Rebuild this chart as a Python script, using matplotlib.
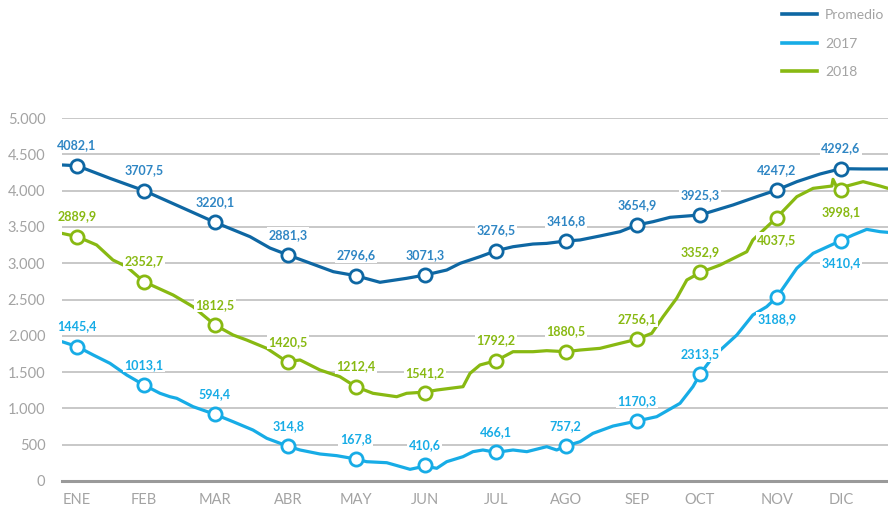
import matplotlib
matplotlib.use("Agg")
import matplotlib.pyplot as plt
from matplotlib.lines import Line2D
from matplotlib.ticker import FuncFormatter

plt.rcParams['font.family'] = ['Lato', 'DejaVu Sans']

# month ticks (day of year where the monthly markers sit)
months = ['ENE', 'FEB', 'MAR', 'ABR', 'MAY', 'JUN', 'JUL', 'AGO', 'SEP', 'OCT', 'NOV', 'DIC']
month_days = [6.6, 36.2, 67.6, 99.9, 129.8, 160.4, 191.8, 222.6, 254.0, 281.9, 315.8, 344.2]

# daily curves
prom_days = [0, 6.6, 21.2, 36.2, 52.1, 67.6, 83.1, 91.9, 99.9, 119.9, 129.8, 140.5, 152.3,
             160.4, 170.0, 175.9, 184.7, 191.8, 199.3, 208.1, 214.2, 222.6, 228.9, 237.7,
             246.6, 254.0, 261.2, 268.7, 281.9, 296.5, 307.0, 315.8, 324.7, 335.0, 344.2,
             353.9, 365]
prom_vals = [4353, 4343, 4169, 4000, 3779, 3563, 3365, 3209, 3113, 2883, 2828, 2737, 2792,
             2837, 2906, 2998, 3090, 3172, 3227, 3264, 3273, 3306, 3320, 3375,
             3434, 3526, 3572, 3632, 3664, 3802, 3916, 4008, 4123, 4229, 4302,
             4298, 4298]

y2018_days = [0, 6.8, 15.3, 22.5, 28.6, 36.2, 49.1, 57.9, 67.6, 75.6, 81.6, 90.5, 99.4,
              105.2, 114.0, 122.8, 129.8, 137.4, 147.9, 152.3, 160.4, 165.6, 177.2, 180.3,
              184.7, 191.8, 199.3, 208.1, 214.2, 222.6, 228.9, 237.7, 246.6, 254.0, 260.6,
              265.6, 271.6, 276.1, 282.2, 290.8, 302.6, 305.3, 315.8, 324.7, 331.9, 340.2,
              340.7, 342.4, 346.8, 354.0, 361.5, 365]
y2018_vals = [3411, 3365, 3251, 3044, 2952, 2745, 2562, 2401, 2149, 2011, 1942, 1827, 1643,
              1667, 1529, 1437, 1299, 1208, 1161, 1208, 1225, 1253, 1299, 1483,
              1598, 1657, 1781, 1781, 1795, 1781, 1804, 1827, 1896, 1952, 2034,
              2263, 2516, 2769, 2874, 2975, 3158, 3320, 3627, 3916, 4031, 4063,
              4155, 4045, 4063, 4123, 4063, 4031]

y2017_days = [0, 6.8, 13.8, 21.2, 28.6, 36.2, 43.3, 47.7, 50.7, 57.9, 67.6, 75.6, 84.4,
              90.5, 99.6, 105.2, 114.0, 121.4, 129.8, 134.6, 143.5, 153.8, 160.4, 165.6,
              170.0, 177.2, 181.6, 186.0, 191.8, 199.3, 205.4, 214.2, 218.6, 222.6, 228.9,
              234.6, 243.5, 254.0, 262.8, 273.1, 278.8, 281.9, 287.7, 298.2, 305.3, 311.4,
              315.8, 324.7, 331.9, 344.1, 349.5, 355.6, 361.5, 365]
y2017_vals = [1919, 1850, 1736, 1621, 1460, 1322, 1208, 1161, 1139, 1024, 918, 817, 702,
              588, 482, 427, 372, 349, 303, 266, 252, 161, 205, 175,
              266, 335, 404, 427, 395, 427, 404, 473, 427, 482, 541,
              656, 757, 826, 886, 1070, 1299, 1470, 1712, 2011, 2287, 2401,
              2530, 2930, 3136, 3310, 3388, 3466, 3434, 3425]

# monthly markers and their labels
prom_marks = [4343, 4000, 3563, 3113, 2828, 2837, 3172, 3306, 3526, 3664, 4008, 4302]
y2018_marks = [3365, 2745, 2149, 1643, 1299, 1216, 1657, 1781, 1952, 2874, 3627, 4008]
y2017_marks = [1850, 1322, 918, 482, 303, 220, 395, 482, 826, 1470, 2530, 3310]

prom_labels = ['4082,1', '3707,5', '3220,1', '2881,3', '2796,6', '3071,3',
               '3276,5', '3416,8', '3654,9', '3925,3', '4247,2', '4292,6']
y2018_labels = ['2889,9', '2352,7', '1812,5', '1420,5', '1212,4', '1541,2',
                '1792,2', '1880,5', '2756,1', '3352,9', '4037,5', '3998,1']
y2017_labels = ['1445,4', '1013,1', '594,4', '314,8', '167,8', '410,6',
                '466,1', '757,2', '1170,3', '2313,5', '3188,9', '3410,4']

c_prom = '#0e67a3'
c_2017 = '#17ace6'
c_2018 = '#88b912'
c_prom_lbl = '#2f86c4'
c_text = '#a3a3a3'

fig = plt.figure(figsize=(8.88, 5.07), dpi=100)
ax = fig.add_axes([62 / 888, 1 - 481 / 507, 1 - 62 / 888, (481 - 118) / 507])

ax.set_xlim(0, 365)
ax.set_ylim(0, 5000)
ax.set_yticks(range(0, 5001, 500))
ax.yaxis.set_major_formatter(FuncFormatter(lambda v, p: f'{int(v):,}'.replace(',', '.')))
ax.set_xticks(month_days)
ax.set_xticklabels(months)
ax.tick_params(length=0, colors=c_text, labelsize=10.5, pad=9)
ax.tick_params(axis='y', pad=12)
for s in ax.spines.values():
    s.set_visible(False)
ax.grid(axis='y', color='#c4c4c4', lw=1.3)
ax.set_axisbelow(True)
ax.axhline(0, color='#9a9a9a', lw=2.2, zorder=1, clip_on=False)

series = [
    (prom_days, prom_vals, prom_marks, prom_labels, c_prom, c_prom_lbl, []),
    (y2017_days, y2017_vals, y2017_marks, y2017_labels, c_2017, c_2017, ['NOV', 'DIC']),
    (y2018_days, y2018_vals, y2018_marks, y2018_labels, c_2018, c_2018, ['NOV', 'DIC']),
]

for days, vals, marks, labels, col, lcol, below in series:
    ax.plot(days, vals, color=col, lw=2.3, zorder=3, solid_capstyle='round')
    ax.plot(month_days, marks, 'o', ms=9.5, mfc='white', mec=col, mew=2.0,
            zorder=4, clip_on=False)
    for m, d, v, t in zip(months, month_days, marks, labels):
        off = -16 if m in below else 14.5
        ax.annotate(t, (d, v), xytext=(0, off), textcoords='offset points',
                    ha='center', va='center', fontsize=9, fontweight='bold',
                    color=lcol, zorder=5,
                    bbox=dict(boxstyle='square,pad=0.12', fc='white', ec='none'))

handles = [Line2D([], [], color=c_prom, lw=2.6),
           Line2D([], [], color=c_2017, lw=2.6),
           Line2D([], [], color=c_2018, lw=2.6)]
leg = fig.legend(handles, ['Promedio', '2017', '2018'], loc='upper left',
                 bbox_to_anchor=(782 / 888, 1 - 9 / 507), frameon=False,
                 borderpad=0, borderaxespad=0, handlelength=2.5,
                 handletextpad=0.6, labelspacing=1.2, prop={'size': 10})
for t in leg.get_texts():
    t.set_color(c_text)

fig.savefig('out.png', dpi=100)
